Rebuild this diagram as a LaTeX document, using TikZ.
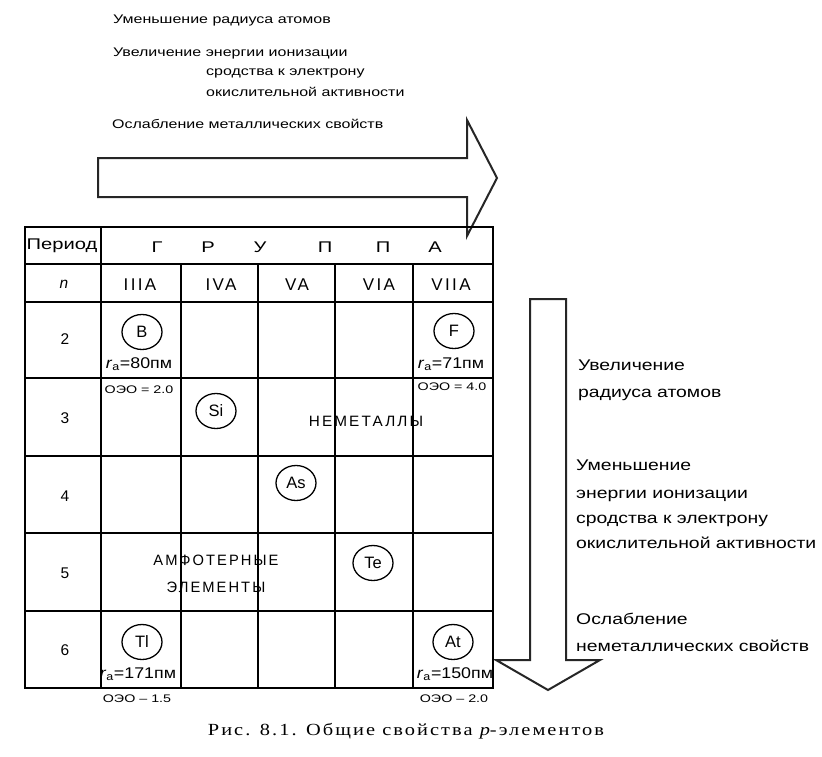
\documentclass[tikz,border=0pt]{standalone}
\usepackage{fontspec}
\usepackage{graphicx}
\setmainfont{Liberation Sans}
\newfontfamily\spfont[LetterSpace=14]{Liberation Sans}
\newfontfamily\capfont[LetterSpace=10]{Liberation Serif}
\usetikzlibrary{shapes.geometric}
\newcommand\sx[2]{\scalebox{#1}[1]{#2}}
\begin{document}
\begin{tikzpicture}[x=1pt,y=-1pt,
  toptxt/.style={anchor=base west, inner sep=0, font=\fontsize{12.5}{14}\selectfont},
  sidetxt/.style={anchor=base west, inner sep=0, font=\fontsize{15.5}{17}\selectfont},
  cell/.style={inner sep=0, font=\fontsize{15.5}{17}\selectfont},
  rom/.style={inner sep=0, font=\spfont\fontsize{17}{19}\selectfont},
  elem/.style={ellipse, draw, line width=1.3pt, minimum width=40pt, minimum height=35pt, inner sep=0, font=\fontsize{16.5}{18}\selectfont},
  ralbl/.style={inner sep=0, font=\fontsize{15.5}{17}\selectfont},
  oeo/.style={inner sep=0, font=\fontsize{11}{13}\selectfont},
  tline/.style={line width=1.3pt},
  bigarrow/.style={draw=black!85, line width=2pt, line join=miter},
  big/.style={inner sep=0, font=\spfont\fontsize{15}{17}\selectfont}
]
\useasboundingbox[fill=white] (0,0) rectangle (822,756);

% top texts
\node[toptxt] (t1) at (113,23) {\sx{1.28}{Уменьшение радиуса атомов}};
\node[toptxt] (t2) at (113,56) {\sx{1.28}{Увеличение энергии ионизации}};
\node[toptxt] (t3) at (206,75) {\sx{1.28}{сродства к электрону}};
\node[toptxt] (t4) at (206,96) {\sx{1.28}{окислительной активности}};
\node[toptxt] (t5) at (112,128) {\sx{1.28}{Ослабление металлических свойств}};

% horizontal block arrow
\coordinate (ha) at (98,158);
\draw[bigarrow] (ha) -- (467,158) -- (467,120) -- (497,178) -- (467,236) -- (467,197) -- (98,197) -- cycle;

% vertical block arrow
\coordinate (va) at (530,299);
\draw[bigarrow] (va) -- (566,299) -- (566,660) -- (600,660) -- (548,690) -- (496,660) -- (530,660) -- cycle;

% right texts
\node[sidetxt] (s1) at (578,370) {\sx{1.25}{Увеличение}};
\node[sidetxt] (s2) at (578,397) {\sx{1.25}{радиуса атомов}};
\node[sidetxt] (s3) at (576,470) {\sx{1.25}{Уменьшение}};
\node[sidetxt] (s4) at (576,498) {\sx{1.25}{энергии ионизации}};
\node[sidetxt] (s5) at (576,523) {\sx{1.25}{сродства к электрону}};
\node[sidetxt] (s6) at (576,548) {\sx{1.25}{окислительной активности}};
\node[sidetxt] (s7) at (576,624) {\sx{1.25}{Ослабление}};
\node[sidetxt] (s8) at (576,651) {\sx{1.25}{неметаллических свойств}};

% table
\draw[tline] (25,227) rectangle (493,688);
\draw[tline] (25,264) -- (493,264);
\draw[tline] (25,302) -- (493,302);
\foreach \yy in {378,456,533,611} \draw[tline] (25,\yy) -- (493,\yy);
\draw[tline] (101,227) -- (101,688);
\foreach \xx in {181,258,335,413} \draw[tline] (\xx,264) -- (\xx,688);

\node[cell] (per) at (62,246) {\sx{1.3}{Период}};
\node[cell] (g1) at (157,247) {\sx{1.3}{Г}};
\node[cell] (g2) at (208,247) {\sx{1.3}{Р}};
\node[cell] (g3) at (260,247) {\sx{1.3}{У}};
\node[cell] (g4) at (325,247) {\sx{1.3}{П}};
\node[cell] (g5) at (383,247) {\sx{1.3}{П}};
\node[cell] (g6) at (435,247) {\sx{1.3}{А}};

\node[cell] (nn) at (64,284) {\itshape n};
\node[rom] (r3) at (140,285) {IIIA};
\node[rom] (r4) at (221,285) {IVA};
\node[rom] (r5) at (297,285) {VA};
\node[rom] (r6) at (379,285) {VIA};
\node[rom] (r7) at (451,285) {VIIA};

\node[cell] (p2) at (65,339) {2};
\node[cell] (p3) at (65,418) {3};
\node[cell] (p4) at (65,496) {4};
\node[cell] (p5) at (65,573) {5};
\node[cell] (p6) at (65,650) {6};

% elements
\node[elem] (B) at (142,332) {B};
\node[elem] (F) at (454,331) {F};
\node[elem] (Si) at (216,411) {Si};
\node[elem] (As) at (296,483) {As};
\node[elem] (Te) at (373,563) {Te};
\node[elem] (Tl) at (142,642) {Tl};
\node[elem] (At) at (453,642) {At};

\node[ralbl] (rB) at (139,364) {\sx{1.15}{\textit{r}\textsubscript{a}=80пм}};
\node[ralbl] (rF) at (451,364) {\sx{1.15}{\textit{r}\textsubscript{a}=71пм}};
\node[ralbl] (rTl) at (138,674) {\sx{1.15}{\textit{r}\textsubscript{a}=171пм}};
\node[ralbl] (rAt) at (455,674) {\sx{1.15}{\textit{r}\textsubscript{a}=150пм}};

\node[oeo] (oB) at (139,390) {\sx{1.3}{ОЭО = 2.0}};
\node[oeo] (oF) at (452,387) {\sx{1.3}{ОЭО = 4.0}};
\node[oeo] (oTl) at (137,699) {\sx{1.3}{ОЭО – 1.5}};
\node[oeo] (oAt) at (454,699) {\sx{1.3}{ОЭО – 2.0}};

\node[big] (nm) at (366,421) {\sx{1.02}{НЕМЕТАЛЛЫ}};
\node[big] (am1) at (216,560) {\sx{0.98}{АМФОТЕРНЫЕ}};
\node[big] (am2) at (216,587) {\sx{0.98}{ЭЛЕМЕНТЫ}};

% caption
\node[inner sep=0, font=\capfont\fontsize{17}{19}\selectfont] (cap) at (406,731) {\sx{1.2}{Рис. 8.1. Общие свойства {\itshape p}-элементов}};
\end{tikzpicture}
\end{document}
